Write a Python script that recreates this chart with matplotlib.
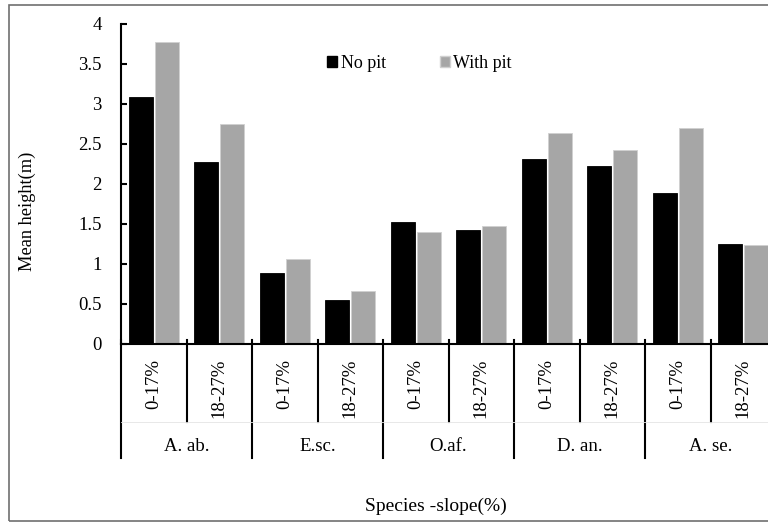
import matplotlib
matplotlib.use("Agg")
import matplotlib.pyplot as plt
from matplotlib.patches import Patch, Rectangle
from matplotlib.transforms import blended_transform_factory
import numpy as np

plt.rcParams["font.family"] = ["Liberation Serif", "DejaVu Serif"]

# Data
species = ["A. ab.", "E.sc.", "O.af.", "D. an.", "A. se."]
slopes = ["0-17%", "18-27%"]
no_pit = [3.09, 2.28, 0.89, 0.55, 1.53, 1.42, 2.31, 2.22, 1.89, 1.255]
with_pit = [3.77, 2.745, 1.06, 0.66, 1.40, 1.48, 2.64, 2.43, 2.70, 1.24]
yticks = [0, 0.5, 1, 1.5, 2, 2.5, 3, 3.5, 4]
yticklabels = ["0", "0.5", "1", "1.5", "2", "2.5", "3", "3.5", "4"]

W, H = 768, 523
fs = 13.5

fig = plt.figure(figsize=(W / 100, H / 100), dpi=100)
ax_left, ax_right, ax_top, ax_bot = 121, 776, 24, 344
ax = fig.add_axes([ax_left / W, 1 - ax_bot / H, (ax_right - ax_left) / W, (ax_bot - ax_top) / H])

n = len(no_pit)
x = np.arange(n) + 0.5
bw = 0.37
ax.bar(x - 0.2, no_pit, bw, color="black", edgecolor="black", linewidth=0.6)
ax.bar(x + 0.2, with_pit, bw, color="#a6a6a6", edgecolor="#d0d0d0", linewidth=0.6)

ax.set_xlim(0, n)
ax.set_ylim(0, 4)
ax.set_yticks(yticks)
ax.set_yticklabels(yticklabels, fontsize=fs)
ax.tick_params(axis="y", direction="in", length=4, width=1.5, pad=14)
ax.set_xticks([])
for s in ["top", "right"]:
    ax.spines[s].set_visible(False)
ax.spines["left"].set_linewidth(1.5)
ax.spines["bottom"].set_linewidth(1.5)

# multi level category axis
px = 1.0 / (ax_bot - ax_top)
trans = blended_transform_factory(ax.transData, ax.transAxes)
for i in range(1, n, 2):
    ax.plot([i, i], [4 * px, -77.7 * px], color="black", lw=1.5, transform=trans, clip_on=False)
for i in range(0, n + 1, 2):
    ax.plot([i, i], [4 * px, -113.7 * px], color="black", lw=1.5, transform=trans, clip_on=False)
ax.plot([0, n], [-77.7 * px, -77.7 * px], color="#e4e4e4", lw=0.6, transform=trans, clip_on=False)

for i in range(n):
    ax.text(x[i], -15 * px, slopes[i % 2], rotation=90, ha="center", va="top",
            fontsize=fs, transform=trans)
for g, name in enumerate(species):
    ax.text(2 * g + 1, -102.7 * px, name, ha="center", va="center", fontsize=fs, transform=trans)

fig.text(436 / W, 1 - 506 / H, "Species -slope(%)", ha="center", va="center", fontsize=14)
fig.text(27.5 / W, 1 - 211 / H, "Mean height(m)", ha="center", va="center", rotation=90, fontsize=13.2)

handles = [Patch(facecolor="black", edgecolor="black", label="No pit"),
           Patch(facecolor="#a6a6a6", edgecolor="#d0d0d0", label="With pit")]
fig.legend(handles=handles, loc="center left", bbox_to_anchor=(327 / W, 1 - 63 / H), ncol=2,
           frameon=False, fontsize=13, handlelength=0.55, handleheight=0.55, handletextpad=0.2,
           columnspacing=3.0, borderpad=0, borderaxespad=0)

# outer frame of the chart area
fig.patches.append(Rectangle((9 / W, 1 - 521 / H), 1.0, (521 - 5) / H, transform=fig.transFigure,
                             fill=False, edgecolor="#707070", lw=1.2))

fig.savefig("out.png", dpi=100)
